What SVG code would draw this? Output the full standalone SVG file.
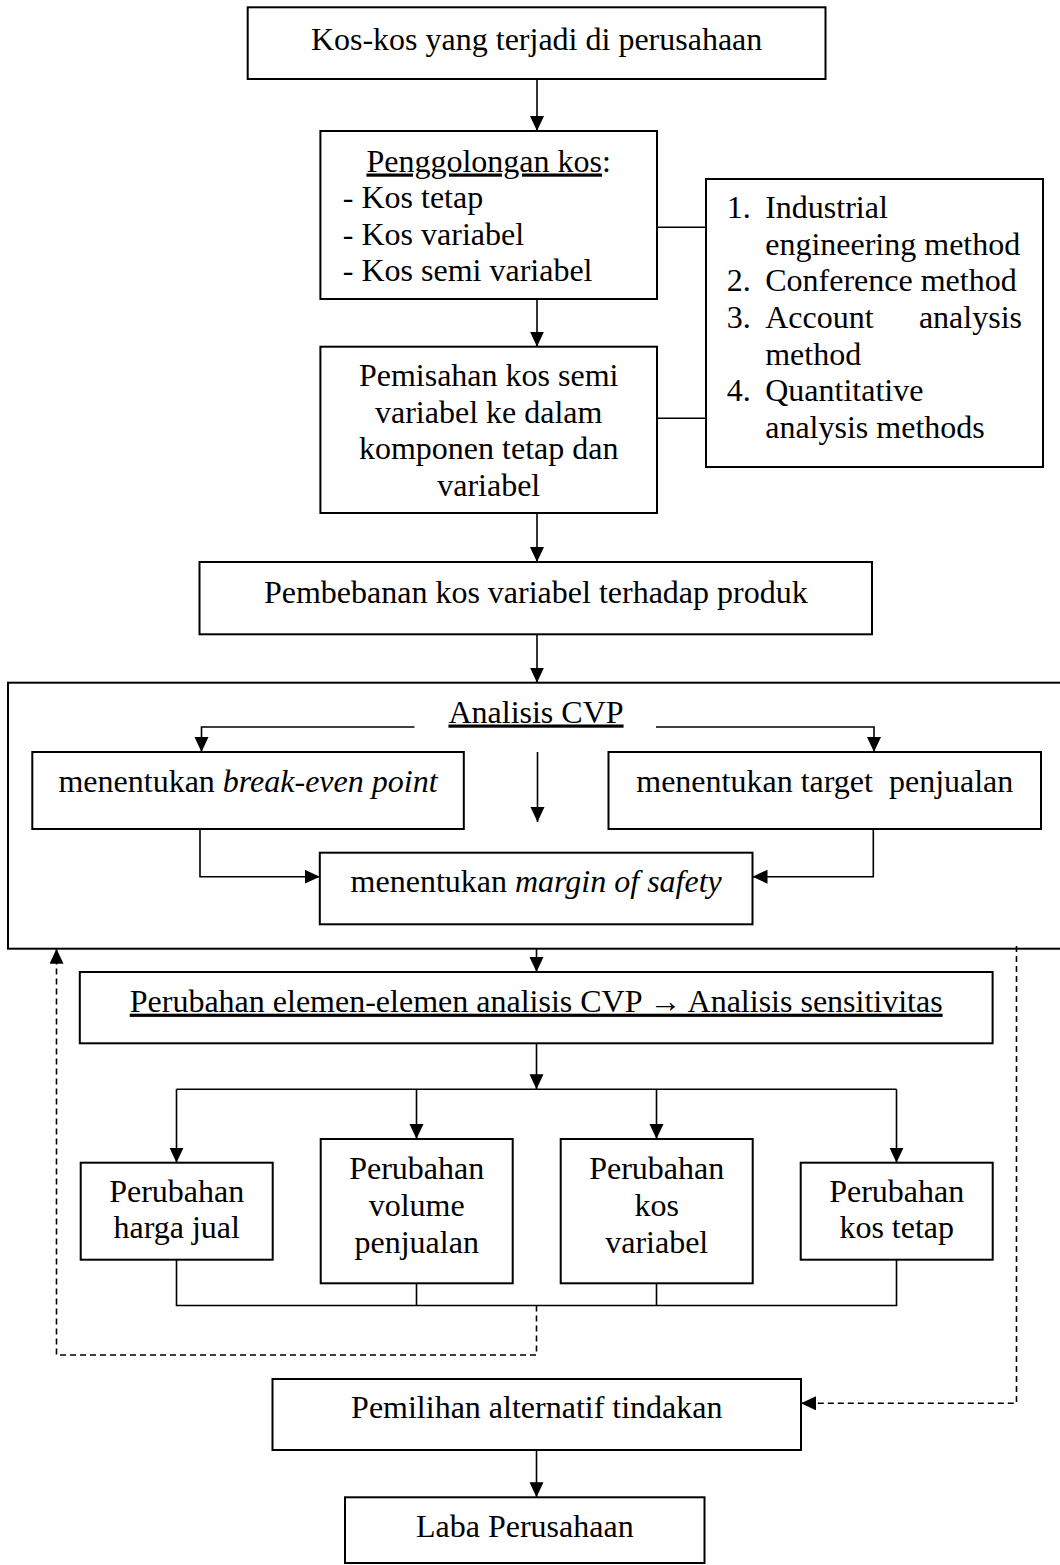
<svg xmlns="http://www.w3.org/2000/svg" width="1060" height="1565" viewBox="0 0 1060 1565">
<style>
text{font-family:"Liberation Serif","Times New Roman",serif;font-size:32px;fill:#000}
.c{text-anchor:middle}
.e{text-anchor:end}
.u{text-decoration:underline}
.box{fill:#fff;stroke:#000;stroke-width:2}
.ln{fill:none;stroke:#000;stroke-width:1.6}
.ds{fill:none;stroke:#000;stroke-width:1.6;stroke-dasharray:6 4}
</style>
<defs>
<marker id="ah" markerUnits="userSpaceOnUse" markerWidth="16" markerHeight="16" refX="15" refY="7" orient="auto">
<path d="M0,0 L15,7 L0,14 z" fill="#000"/>
</marker>
</defs>
<rect width="1060" height="1565" fill="#fff"/>

<g id="cvp-frame">
<rect class="box" x="8" y="682.7" width="1060" height="266"/>
<text class="c u" x="536" y="722.5">Analisis CVP</text>
</g>

<g id="connectors">
<path class="ln" d="M537 79 V131" marker-end="url(#ah)"/>
<path class="ln" d="M537 299 V346.7" marker-end="url(#ah)"/>
<path class="ln" d="M657 227.3 H706"/>
<path class="ln" d="M657 418.3 H706"/>
<path class="ln" d="M537 513 V562" marker-end="url(#ah)"/>
<path class="ln" d="M537 634.3 V682.7" marker-end="url(#ah)"/>
<path class="ln" d="M414.5 727 H201.5 V752" marker-end="url(#ah)"/>
<path class="ln" d="M656 727 H874 V752" marker-end="url(#ah)"/>
<path class="ln" d="M537.5 752 V822" marker-end="url(#ah)"/>
<path class="ln" d="M200 829 V876.7 H319.8" marker-end="url(#ah)"/>
<path class="ln" d="M873.3 829 V876.7 H752.5" marker-end="url(#ah)"/>
<path class="ln" d="M536.5 948.7 V972" marker-end="url(#ah)"/>
<path class="ln" d="M536.5 1043.3 V1089.3" marker-end="url(#ah)"/>
<path class="ln" d="M176.5 1089.3 H896.5"/>
<path class="ln" d="M176.5 1089.3 V1162.7" marker-end="url(#ah)"/>
<path class="ln" d="M416.5 1089.3 V1139" marker-end="url(#ah)"/>
<path class="ln" d="M656.5 1089.3 V1139" marker-end="url(#ah)"/>
<path class="ln" d="M896.5 1089.3 V1162.7" marker-end="url(#ah)"/>
<path class="ln" d="M176.5 1259.7 V1305.5 H896.5 V1259.7"/>
<path class="ln" d="M416.5 1283.3 V1305.5"/>
<path class="ln" d="M656.5 1283.3 V1305.5"/>
<path class="ds" d="M536.5 1305.5 V1355 H56.5 V948.7" marker-end="url(#ah)"/>
<path class="ds" d="M1016.5 946 V1403.3 H801" marker-end="url(#ah)"/>
<path class="ln" d="M536.5 1450 V1497.3" marker-end="url(#ah)"/>
</g>

<g id="n-kos">
<rect class="box" x="247.7" y="7.3" width="577.8" height="71.7"/>
<text class="c" x="536.6" y="50">Kos-kos yang terjadi di perusahaan</text>
</g>

<g id="n-penggolongan">
<rect class="box" x="320.4" y="131" width="336.6" height="168"/>
<text class="c" x="488.7" y="171.5"><tspan class="u">Penggolongan kos</tspan>:</text>
<text x="342.8" y="208">- Kos tetap</text>
<text x="342.8" y="244.5">- Kos variabel</text>
<text x="342.8" y="281">- Kos semi variabel</text>
</g>

<g id="n-metode">
<rect class="box" x="706" y="179" width="337" height="288"/>
<text x="726.8" y="218">1.</text>
<text x="765.2" y="218">Industrial</text>
<text x="765.2" y="254.7">engineering method</text>
<text x="726.8" y="291.3">2.</text>
<text x="765.2" y="291.3">Conference method</text>
<text x="726.8" y="328">3.</text>
<text x="765.2" y="328">Account</text>
<text class="e" x="1022" y="328">analysis</text>
<text x="765.2" y="364.7">method</text>
<text x="726.8" y="401.3">4.</text>
<text x="765.2" y="401.3">Quantitative</text>
<text x="765.2" y="438">analysis methods</text>
</g>

<g id="n-pemisahan">
<rect class="box" x="320.4" y="346.7" width="336.6" height="166.3"/>
<text class="c" x="488.7" y="386">Pemisahan kos semi</text>
<text class="c" x="488.7" y="422.7">variabel ke dalam</text>
<text class="c" x="488.7" y="459.3">komponen tetap dan</text>
<text class="c" x="488.7" y="496">variabel</text>
</g>

<g id="n-pembebanan">
<rect class="box" x="199.5" y="562" width="672.5" height="72.3"/>
<text class="c" x="535.8" y="603">Pembebanan kos variabel terhadap produk</text>
</g>

<g id="n-bep">
<rect class="box" x="32.3" y="752" width="431.5" height="77"/>
<text class="c" x="248" y="791.7">menentukan <tspan font-style="italic">break-even point</tspan></text>
</g>

<g id="n-target">
<rect class="box" x="608.5" y="752" width="432.5" height="77"/>
<text class="c" x="824.8" y="791.7" xml:space="preserve">menentukan target  penjualan</text>
</g>

<g id="n-margin">
<rect class="box" x="319.8" y="852.7" width="432.7" height="71.6"/>
<text class="c" x="536.2" y="891.7">menentukan <tspan font-style="italic">margin of safety</tspan></text>
</g>

<g id="n-sensitivitas">
<rect class="box" x="79.8" y="972" width="912.8" height="71.3"/>
<text class="c u" x="536.2" y="1011.7">Perubahan elemen-elemen analisis CVP → Analisis sensitivitas</text>
</g>

<g id="n-harga">
<rect class="box" x="80.7" y="1162.7" width="192" height="97"/>
<text class="c" x="176.7" y="1201.7">Perubahan</text>
<text class="c" x="176.7" y="1238.4">harga jual</text>
</g>

<g id="n-volume">
<rect class="box" x="320.7" y="1139" width="192" height="144.3"/>
<text class="c" x="416.7" y="1179.3">Perubahan</text>
<text class="c" x="416.7" y="1216.3">volume</text>
<text class="c" x="416.7" y="1253.3">penjualan</text>
</g>

<g id="n-kosvar">
<rect class="box" x="560.7" y="1139" width="192" height="144.3"/>
<text class="c" x="656.7" y="1179.3">Perubahan</text>
<text class="c" x="656.7" y="1216.3">kos</text>
<text class="c" x="656.7" y="1253.3">variabel</text>
</g>

<g id="n-kostetap">
<rect class="box" x="800.7" y="1162.7" width="192" height="97"/>
<text class="c" x="896.7" y="1201.7">Perubahan</text>
<text class="c" x="896.7" y="1238.4">kos tetap</text>
</g>

<g id="n-pemilihan">
<rect class="box" x="272.5" y="1379" width="528.5" height="71"/>
<text class="c" x="536.8" y="1418">Pemilihan alternatif tindakan</text>
</g>

<g id="n-laba">
<rect class="box" x="345" y="1497.3" width="359.5" height="65.7"/>
<text class="c" x="524.8" y="1536.7">Laba Perusahaan</text>
</g>
</svg>
